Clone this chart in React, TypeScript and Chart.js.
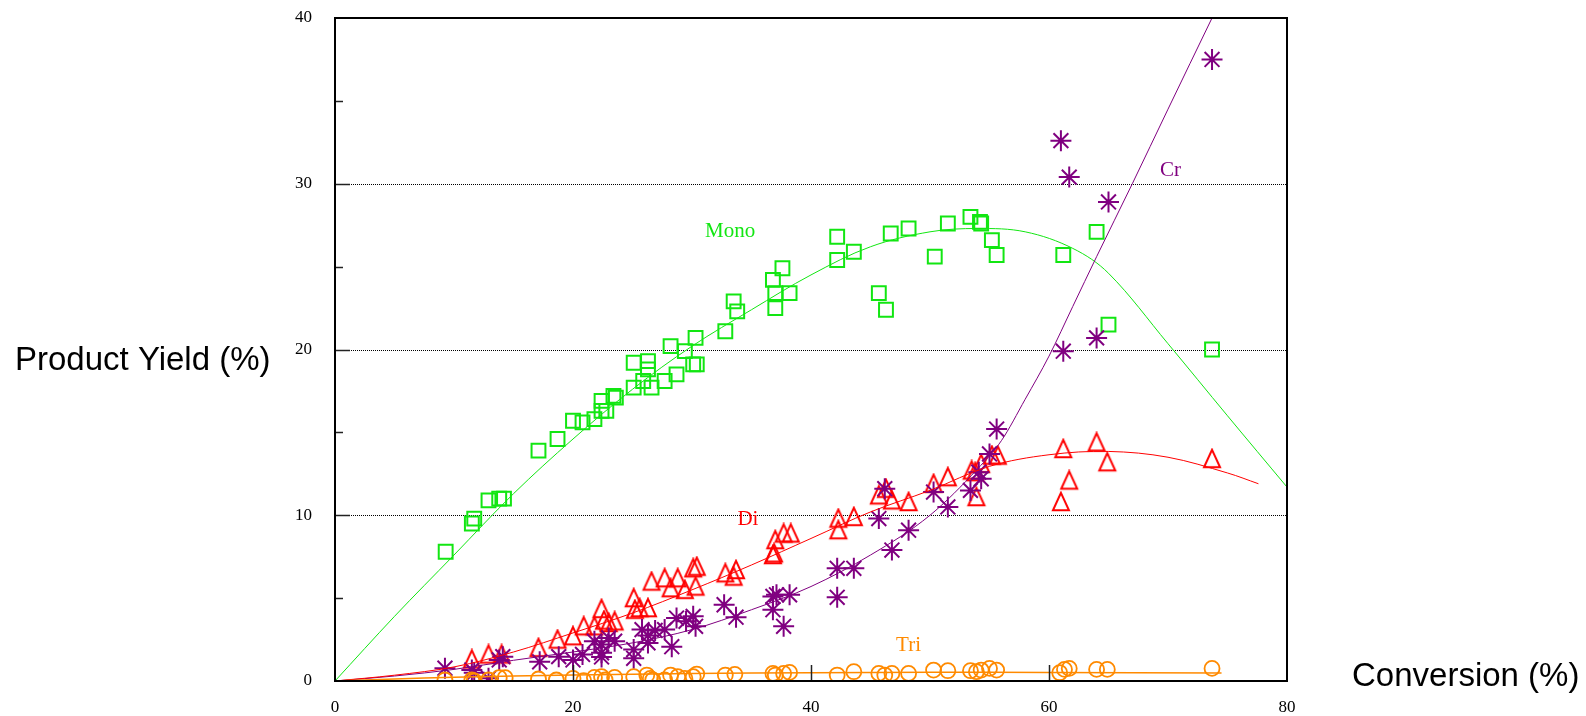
import React, { useEffect, useRef } from "react";
import { Chart, registerables } from "chart.js";

Chart.register(...registerables);

// ---------- Data ----------
const xTicks = [0, 20, 40, 60, 80];
const yTicks = [0, 10, 20, 30, 40];
const yMinorTicks = [5, 15, 25, 35];

const monoX = [9.3, 11.5, 11.7, 12.9, 13.8, 14.2, 17.1, 18.7, 20.0, 20.8, 21.8, 22.4, 22.4, 22.8, 23.4, 23.6, 25.1, 25.1, 25.9, 26.3, 26.3, 26.6, 27.7, 28.2, 28.7, 29.4, 30.1, 30.3, 30.4, 32.8, 33.5, 33.8, 36.8, 37.0, 37.0, 37.6, 38.2, 42.2, 42.2, 43.6, 45.7, 46.3, 46.7, 48.2, 50.4, 51.5, 53.4, 54.2, 54.3, 55.2, 55.6, 61.2, 64.0, 65.0, 73.7];
const monoY = [7.8, 9.5, 9.8, 10.9, 11.0, 11.0, 13.9, 14.6, 15.7, 15.6, 15.8, 16.9, 16.3, 16.3, 17.2, 17.1, 17.7, 19.2, 18.1, 19.3, 18.8, 17.7, 18.1, 20.2, 18.5, 19.9, 19.1, 20.7, 19.1, 21.1, 22.9, 22.3, 24.2, 23.4, 22.5, 24.9, 23.4, 25.4, 26.8, 25.9, 23.4, 22.4, 27.0, 27.3, 25.6, 27.6, 28.0, 27.7, 27.6, 26.6, 25.7, 25.7, 27.1, 21.5, 20.0];

const diX = [11.5, 12.9, 14.0, 17.1, 18.7, 20.0, 20.9, 21.8, 22.4, 22.6, 23.0, 23.5, 25.1, 25.2, 25.6, 26.3, 26.6, 27.7, 28.2, 28.8, 29.4, 30.3, 30.1, 30.4, 32.8, 33.5, 33.7, 36.8, 36.9, 37.0, 37.7, 38.3, 42.3, 42.3, 43.6, 45.7, 46.3, 46.8, 48.2, 50.3, 51.5, 53.5, 53.8, 54.3, 53.9, 55.2, 55.7, 61.2, 61.7, 61.0, 64.0, 64.9, 73.7];
const diY = [1.3, 1.6, 1.6, 2.0, 2.5, 2.7, 3.3, 3.3, 4.35, 3.65, 3.5, 3.6, 5.0, 4.3, 4.4, 4.4, 6.0, 6.2, 5.6, 6.2, 5.5, 5.7, 6.8, 6.9, 6.5, 6.3, 6.7, 7.6, 7.7, 8.5, 8.9, 8.9, 9.8, 9.1, 9.9, 11.2, 11.6, 10.9, 10.8, 11.9, 12.3, 12.7, 12.6, 13.1, 11.1, 13.6, 13.6, 14.0, 12.1, 10.8, 14.4, 13.2, 13.4];

const crX = [9.24, 11.5, 11.7, 12.9, 13.8, 14.1, 17.2, 18.8, 20.0, 20.8, 21.8, 22.4, 22.4, 22.4, 23.0, 23.5, 25.1, 25.1, 25.8, 26.3, 26.3, 26.9, 27.7, 28.3, 28.7, 29.5, 30.1, 30.3, 32.7, 33.7, 36.8, 36.8, 37.1, 38.2, 37.7, 42.2, 42.2, 43.6, 45.7, 46.2, 46.8, 48.2, 50.3, 51.5, 53.4, 54.1, 54.3, 55.0, 55.6, 61.2, 64.0, 61.0, 61.7, 65.0, 73.7];
const crY = [0.77, 0.66, 0.5, 0.16, 1.27, 1.47, 1.16, 1.47, 1.27, 1.6, 2.4, 1.7, 2.2, 1.45, 2.6, 2.4, 1.9, 1.37, 3.1, 2.75, 2.3, 3.05, 3.1, 2.07, 3.8, 3.6, 3.9, 3.3, 4.6, 3.85, 4.3, 5.1, 5.2, 5.2, 3.3, 6.8, 5.05, 6.8, 9.8, 11.6, 7.9, 9.1, 11.4, 10.5, 11.5, 12.6, 12.2, 13.7, 15.2, 19.9, 20.7, 32.6, 30.4, 28.9, 37.5];

const triX = [9.24, 11.5, 11.7, 12.9, 13.8, 14.3, 17.1, 18.6, 20.0, 20.9, 21.8, 22.4, 22.7, 23.5, 25.1, 26.2, 26.5, 26.7, 27.7, 28.2, 28.8, 29.4, 30.1, 30.4, 32.8, 33.6, 36.8, 37.0, 37.7, 38.2, 42.2, 43.6, 45.7, 46.2, 46.8, 48.2, 50.3, 51.5, 53.4, 53.9, 54.3, 55.0, 55.6, 60.9, 61.3, 61.7, 64.0, 64.9, 73.7];
const triY = [0.06, 0.06, 0.0, 0.06, 0.2, 0.2, 0.12, 0.06, 0.16, 0.02, 0.22, 0.26, 0.06, 0.22, 0.26, 0.36, 0.16, 0.06, 0.06, 0.36, 0.26, 0.16, 0.26, 0.42, 0.36, 0.4, 0.46, 0.36, 0.46, 0.52, 0.36, 0.56, 0.46, 0.36, 0.46, 0.46, 0.66, 0.62, 0.62, 0.56, 0.66, 0.76, 0.66, 0.5, 0.7, 0.76, 0.7, 0.7, 0.76];

// fitted curves
const monoFitX = [0, 5, 10, 15, 20, 25, 30, 35, 40, 45, 50, 54, 58, 62, 65, 70, 75, 80];
const monoFitY = [0, 3.9, 7.6, 11.3, 14.6, 17.6, 20.2, 22.4, 24.5, 26.2, 27.1, 27.3, 27.1, 26.1, 24.6, 20.35, 16.0, 11.7];
const diFitX = [0, 5, 10, 15, 20, 25, 30, 35, 40, 45, 50, 55, 60, 65, 70, 75, 77.6];
const diFitY = [0, 0.35, 0.85, 1.75, 2.9, 4.1, 5.5, 7.0, 8.6, 10.2, 11.5, 12.95, 13.65, 13.85, 13.5, 12.55, 11.9];
const crFitX = [0, 5, 10, 15, 20, 25, 30, 35, 40, 45, 50, 54, 56, 58, 60, 62, 64, 67, 70, 73.7];
const crFitY = [0, 0.3, 0.7, 1.25, 1.75, 2.3, 3.1, 4.3, 5.7, 7.6, 10.0, 12.8, 14.5, 17.0, 19.6, 22.6, 25.6, 30.0, 34.5, 40];
const triFitX = [0, 5, 10, 20, 30, 40, 50, 60, 74.5];
const triFitY = [0, 0.12, 0.22, 0.36, 0.45, 0.5, 0.53, 0.52, 0.48];

const seriesLabels = ["Mono", "Di", "Cr", "Tri"];
const seriesLabelX = [33.2, 34.7, 70.2, 48.2];
const seriesLabelY = [27.1, 9.77, 30.8, 2.12];

const GREEN = "#12e612";
const RED = "#ff0000";
const PURPLE = "#800080";
const ORANGE = "#ff8a00";
const seriesColors = [GREEN, RED, PURPLE, ORANGE];

const zip = (xs: number[], ys: number[]) => xs.map((x, i) => ({ x, y: ys[i] }));

function makeTriangle(color: string) {
  const c = document.createElement("canvas");
  c.width = 22;
  c.height = 22;
  const g = c.getContext("2d")!;
  g.strokeStyle = color;
  g.lineWidth = 2;
  g.lineJoin = "miter";
  g.beginPath();
  g.moveTo(11, 1.8);
  g.lineTo(19, 19.3);
  g.lineTo(3, 19.3);
  g.closePath();
  g.stroke();
  return c;
}

export default function App() {
  const ref = useRef<HTMLCanvasElement | null>(null);

  useEffect(() => {
    document.body.style.margin = "0";
    const canvas = ref.current!;
    const tri = makeTriangle(RED);

    const overlay = {
      id: "overlay",
      beforeDatasetsDraw(chart: any) {
        const { ctx, chartArea } = chart;
        const ys = chart.scales.y;
        ctx.save();
        ctx.strokeStyle = "#000";
        ctx.lineWidth = 1;
        ctx.setLineDash([1, 1]);
        [10, 20, 30].forEach((v) => {
          const py = Math.round(ys.getPixelForValue(v)) + 0.5;
          ctx.beginPath();
          ctx.moveTo(chartArea.left, py);
          ctx.lineTo(chartArea.right, py);
          ctx.stroke();
        });
        ctx.restore();
      },
      afterDatasetsDraw(chart: any) {
        const { ctx, chartArea } = chart;
        const xs = chart.scales.x;
        const ys = chart.scales.y;
        ctx.save();
        // tick marks (inside)
        ctx.strokeStyle = "#222";
        ctx.lineWidth = 1.5;
        yTicks.slice(1, -1).forEach((v) => {
          const py = Math.round(ys.getPixelForValue(v)) + 0.5;
          ctx.beginPath();
          ctx.moveTo(chartArea.left, py);
          ctx.lineTo(chartArea.left + 15, py);
          ctx.stroke();
        });
        yMinorTicks.forEach((v) => {
          const py = Math.round(ys.getPixelForValue(v)) + 0.5;
          ctx.beginPath();
          ctx.moveTo(chartArea.left, py);
          ctx.lineTo(chartArea.left + 8, py);
          ctx.stroke();
        });
        xTicks.slice(1, -1).forEach((v) => {
          const px = Math.round(xs.getPixelForValue(v)) + 0.5;
          ctx.beginPath();
          ctx.moveTo(px, chartArea.bottom);
          ctx.lineTo(px, chartArea.bottom - 16);
          ctx.stroke();
        });
        // frame
        ctx.strokeStyle = "#000";
        ctx.lineWidth = 2;
        ctx.strokeRect(chartArea.left, chartArea.top, chartArea.right - chartArea.left, chartArea.bottom - chartArea.top);
        // series labels
        ctx.font = "21px 'Liberation Serif', 'Times New Roman', serif";
        ctx.textAlign = "center";
        ctx.textBaseline = "middle";
        seriesLabels.forEach((t, i) => {
          ctx.fillStyle = seriesColors[i];
          ctx.fillText(t, xs.getPixelForValue(seriesLabelX[i]), ys.getPixelForValue(seriesLabelY[i]));
        });
        // axis titles
        ctx.fillStyle = "#000";
        ctx.font = "33px 'Liberation Sans', Arial, sans-serif";
        ctx.textAlign = "left";
        ctx.fillText("Product Yield (%)", 15, 361);
        ctx.fillText("Conversion (%)", 1352, 677);
        ctx.restore();
      },
    };

    const fitStyle = (color: string, w = 1) => ({
      showLine: true,
      borderColor: color,
      borderWidth: w,
      pointRadius: 0,
      tension: 0.35,
      fill: false,
    });

    const chart = new Chart(canvas, {
      type: "scatter",
      data: {
        datasets: [
          { data: zip(triFitX, triFitY), ...fitStyle(ORANGE, 1.5) } as any,
          { data: zip(diFitX, diFitY), ...fitStyle(RED) } as any,
          { data: zip(crFitX, crFitY), ...fitStyle(PURPLE), cubicInterpolationMode: "monotone" } as any,
          { data: zip(monoFitX, monoFitY), ...fitStyle(GREEN) } as any,
          {
            data: zip(triX, triY),
            pointStyle: "circle",
            pointRadius: 7.5,
            borderWidth: 1.8,
            borderColor: ORANGE,
            backgroundColor: "rgba(0,0,0,0)",
          },
          {
            data: zip(crX, crY),
            pointStyle: "star",
            pointRadius: 10.5,
            borderWidth: 2,
            borderColor: PURPLE,
            backgroundColor: "rgba(0,0,0,0)",
          },
          {
            data: zip(diX, diY),
            pointStyle: tri,
            pointRadius: 10,
            borderColor: RED,
            backgroundColor: "rgba(0,0,0,0)",
          } as any,
          {
            data: zip(monoX, monoY),
            pointStyle: "rect",
            pointRadius: 9.8,
            borderWidth: 2,
            borderColor: GREEN,
            backgroundColor: "rgba(0,0,0,0)",
          },
        ],
      },
      options: {
        animation: false,
        responsive: false,
        devicePixelRatio: 1,
        events: [],
        layout: { padding: { top: 18, right: 299, bottom: 0, left: 0 } },
        plugins: { legend: { display: false }, tooltip: { enabled: false } },
        scales: {
          x: {
            type: "linear",
            min: 0,
            max: 80,
            ticks: {
              stepSize: 20,
              color: "#000",
              font: { family: "'Liberation Serif', 'Times New Roman', serif", size: 17 },
              padding: 8,
              maxRotation: 0,
            },
            grid: { display: false },
            border: { display: false },
            afterFit: (s: any) => {
              s.height = 35;
              s.paddingLeft = 0;
              s.paddingRight = 0;
            },
          },
          y: {
            type: "linear",
            min: 0,
            max: 40,
            ticks: {
              stepSize: 10,
              color: "#000",
              font: { family: "'Liberation Serif', 'Times New Roman', serif", size: 17 },
              padding: 15,
            },
            grid: { display: false },
            border: { display: false },
            afterFit: (s: any) => {
              s.width = 335;
              s.paddingTop = 0;
              s.paddingBottom = 0;
            },
          },
        },
      },
      plugins: [overlay],
    });

    return () => chart.destroy();
  }, []);

  return (
    <div style={{ position: "relative", width: 1586, height: 716, background: "#fff" }}>
      <canvas ref={ref} width={1586} height={716} style={{ display: "block" }} />
    </div>
  );
}
